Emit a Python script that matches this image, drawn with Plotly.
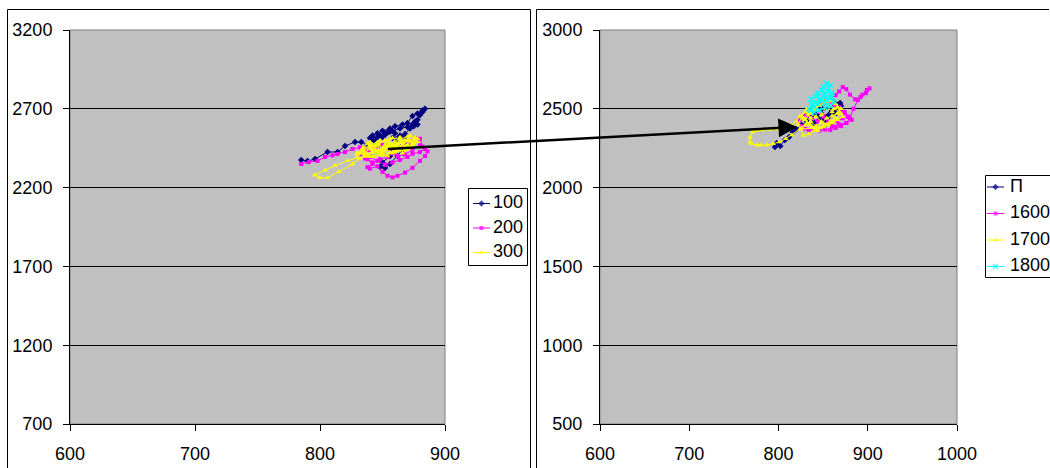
import plotly.graph_objects as go

W, H = 1050, 468

# ---------------- data: left chart ----------------
x100 = [785, 790, 796, 806, 814, 820, 828, 833, 838, 842, 846, 844, 850, 854, 848, 852, 856, 860, 858, 864,
        862, 868, 866, 860, 856, 850, 848, 852, 856, 862, 866, 870, 868, 872, 875, 878, 876, 880, 884, 882,
        878, 874, 870, 866, 860, 856, 850, 846, 842, 840, 846, 852, 858, 864, 870, 874, 878, 882]
y100 = [2375, 2368, 2381, 2426, 2426, 2464, 2489, 2489, 2470, 2500, 2510, 2485, 2520, 2550, 2530, 2540, 2555, 2545, 2515, 2530,
        2500, 2520, 2470, 2440, 2400, 2360, 2330, 2325, 2350, 2400, 2440, 2480, 2540, 2575, 2590, 2600, 2620, 2660, 2700, 2690,
        2670, 2655, 2610, 2600, 2590, 2575, 2560, 2545, 2530, 2515, 2520, 2535, 2560, 2575, 2585, 2600, 2630, 2680]

x200 = [785, 791, 798, 804, 810, 814, 820, 826, 832, 836, 834, 838, 842, 838, 840, 846, 850, 854, 858, 862,
        868, 874, 880, 884, 886, 882, 880, 876, 870, 866, 862, 858, 862, 868, 874, 880, 884, 880, 874, 870,
        864, 858, 852, 846, 840, 836, 840, 846, 850, 856, 860, 854, 848, 842, 836, 832]
y200 = [2350, 2362, 2369, 2394, 2405, 2413, 2426, 2445, 2455, 2440, 2410, 2380, 2350, 2330, 2320, 2335, 2300, 2275, 2265, 2275,
        2295, 2325, 2370, 2400, 2430, 2460, 2510, 2515, 2490, 2470, 2440, 2420, 2400, 2410, 2440, 2470, 2445, 2425, 2415, 2395,
        2375, 2360, 2345, 2370, 2395, 2420, 2440, 2460, 2470, 2445, 2420, 2395, 2380, 2360, 2385, 2410]

x300 = [796, 800, 806, 815, 826, 832, 836, 840, 838, 844, 848, 846, 852, 856, 854, 860, 864, 862, 868, 872,
        870, 876, 874, 868, 862, 858, 852, 848, 842, 838, 834, 840, 846, 850, 856, 860, 866, 870, 874, 878,
        872, 866, 860, 854, 848, 842, 836, 830, 834, 840, 846, 852, 858, 864, 870, 864, 856, 848, 840, 832,
        836, 842, 848, 854, 860, 866, 872, 876, 870, 864, 858, 852, 846, 840, 834, 830, 838, 844, 850, 856,
        862, 868, 874, 878, 870, 860, 850, 840, 830, 822, 812, 804, 796]
y300 = [2280, 2262, 2262, 2300, 2350, 2385, 2420, 2450, 2480, 2460, 2500, 2430, 2470, 2510, 2440, 2490, 2520, 2450, 2500, 2530,
        2470, 2510, 2460, 2440, 2480, 2420, 2460, 2410, 2440, 2400, 2430, 2470, 2490, 2450, 2480, 2430, 2470, 2500, 2480, 2510,
        2455, 2420, 2450, 2400, 2430, 2395, 2420, 2410, 2450, 2490, 2470, 2500, 2470, 2490, 2470, 2440, 2460, 2430, 2450, 2420,
        2400, 2425, 2415, 2455, 2465, 2485, 2495, 2520, 2525, 2505, 2515, 2495, 2480, 2465, 2445, 2420, 2410, 2440, 2430, 2420,
        2440, 2460, 2470, 2490, 2445, 2425, 2405, 2395, 2390, 2370, 2340, 2310, 2280]

# ---------------- data: right chart ----------------
xP = [796, 798, 802, 807, 812, 816, 820, 826, 832, 838, 843, 848, 852, 856, 860, 865, 869, 862, 855, 848,
      842, 836, 840, 845, 852, 858, 864, 870, 866, 860, 854, 848, 844, 850, 856, 862]
yP = [2258, 2283, 2264, 2302, 2321, 2353, 2370, 2397, 2420, 2460, 2505, 2480, 2429, 2450, 2490, 2473, 2537, 2540, 2520, 2500,
      2470, 2440, 2410, 2425, 2445, 2470, 2510, 2520, 2495, 2470, 2450, 2430, 2460, 2500, 2525, 2510]

x1600 = [822, 826, 830, 834, 840, 846, 852, 858, 864, 870, 876, 880, 884, 889, 894, 899, 902, 898, 892, 886,
         880, 876, 872, 868, 864, 858, 862, 868, 874, 878, 872, 866, 860, 856, 850, 846, 842, 846, 852, 858,
         864, 870, 874, 878, 882, 876, 868, 860, 852, 844, 836, 830, 826, 824]
y1600 = [2420, 2390, 2375, 2365, 2372, 2362, 2368, 2365, 2378, 2390, 2410, 2441, 2500, 2555, 2590, 2619, 2630, 2600, 2575, 2560,
         2590, 2625, 2638, 2610, 2587, 2560, 2530, 2510, 2480, 2450, 2440, 2420, 2400, 2420, 2450, 2480, 2500, 2530, 2555, 2540,
         2510, 2490, 2470, 2450, 2430, 2410, 2400, 2390, 2400, 2420, 2440, 2460, 2450, 2430]

x1700 = [826, 815, 808, 801, 794, 787, 780, 776, 770, 768, 768, 771, 776, 782, 790, 798, 806, 814, 820, 824,
         830, 836, 842, 848, 854, 860, 866, 870, 864, 858, 852, 846, 840, 834, 828, 822, 826, 832, 838, 844,
         850, 856, 862, 868, 872, 866, 860, 854, 848, 842, 836, 830, 835, 842, 824, 830, 836, 842, 848, 854,
         860, 866, 870, 864, 858, 852, 846, 840, 834, 828, 832, 838, 844, 850, 856, 862]
y1700 = [2380, 2334, 2310, 2289, 2278, 2270, 2268, 2270, 2278, 2289, 2320, 2353, 2362, 2365, 2368, 2372, 2380, 2395, 2420, 2455,
         2480, 2440, 2500, 2460, 2520, 2480, 2510, 2470, 2440, 2420, 2400, 2380, 2360, 2340, 2330, 2400, 2450, 2500, 2540, 2520,
         2555, 2530, 2500, 2480, 2450, 2430, 2410, 2395, 2420, 2450, 2470, 2430, 2400, 2380, 2370, 2395, 2420, 2390, 2410, 2440,
         2455, 2470, 2500, 2530, 2550, 2545, 2520, 2490, 2470, 2440, 2410, 2380, 2360, 2385, 2400, 2420]

x1800 = [834, 838, 836, 842, 846, 844, 848, 852, 850, 854, 856, 858, 855, 860, 858, 854, 850, 846, 842, 838,
         836, 840, 844, 848, 852, 856, 860, 862, 858, 852, 846, 840]
y1800 = [2500, 2530, 2560, 2580, 2550, 2600, 2620, 2590, 2640, 2660, 2630, 2650, 2610, 2600, 2570, 2560, 2580, 2560, 2540, 2520,
         2490, 2510, 2530, 2555, 2540, 2570, 2580, 2545, 2520, 2510, 2490, 2480]

left_names = ["100", "200", "300"]
right_names = ["\u041f", "1600", "1700", "1800"]

left_xrange, left_yrange = [600, 900], [700, 3200]
right_xrange, right_yrange = [600, 1000], [500, 3000]
left_yticks = [700, 1200, 1700, 2200, 2700, 3200]
right_yticks = [500, 1000, 1500, 2000, 2500, 3000]
left_xticks = [600, 700, 800, 900]
right_xticks = [600, 700, 800, 900, 1000]

arrow_from = (853, 2445)   # in left chart coordinates
arrow_to = (821, 2385)     # in right chart coordinates

# ---------------- layout geometry (pixels) ----------------
L_X0, L_X1 = 70, 445
R_X0, R_X1 = 600, 957
P_Y0, P_Y1 = 30, 424  # top, bottom

LEG1 = dict(box=(468.5, 188.5, 527.5, 265.5), line=(473, 490), text_x=493, rows=[203.5, 228, 252.5],
            area=(464, 184, 531, 270))
LEG2 = dict(box=(985.5, 175.5, 1060, 277.5), line=(987, 1004), text_x=1010, rows=[187, 213.5, 240, 266.5],
            area=(981, 171, 1050, 282))

NAVY, MAG, YEL, CYA = "#000080", "#FF00FF", "#FFFF00", "#00FFFF"
FONT = "Liberation Sans, Arial, sans-serif"
FS = 18

fig = go.Figure()

def add(x, y, name, color, symbol, xa, ya, size=5, lw=0):
    fig.add_trace(go.Scatter(
        x=x, y=y, name=name, mode="lines+markers", xaxis=xa, yaxis=ya, showlegend=False,
        line=dict(color=color, width=1),
        marker=dict(color=color, symbol=symbol, size=size, line=dict(width=lw, color=color)),
    ))

left_styles = [(NAVY, "diamond", 5, 0), (MAG, "square", 4, 0), (YEL, "triangle-up", 5, 0)]
right_styles = [(NAVY, "diamond", 5, 0), (MAG, "square", 4, 0), (YEL, "triangle-up", 5, 0), (CYA, "x-thin-open", 5, 1.5)]

for (xs, ys), nm, st in zip([(x100, y100), (x200, y200), (x300, y300)], left_names, left_styles):
    add(xs, ys, nm, st[0], st[1], "x", "y", st[2], st[3])
for (xs, ys), nm, st in zip([(xP, yP), (x1600, y1600), (x1700, y1700), (x1800, y1800)], right_names, right_styles):
    add(xs, ys, nm, st[0], st[1], "x2", "y2", st[2], st[3])

# ---- legends drawn inside their own hidden axes so the right one is clipped at the page edge ----
def draw_legend(leg, names, styles, xa, ya):
    lx0, lx1 = leg["line"]
    for nm, st, ry in zip(names, styles, leg["rows"]):
        fig.add_trace(go.Scatter(
            x=[lx0, (lx0 + lx1) / 2, lx1], y=[ry, ry, ry], mode="lines+markers", xaxis=xa, yaxis=ya,
            showlegend=False, hoverinfo="skip", line=dict(color=st[0], width=1),
            marker=dict(color=st[0], symbol=st[1], size=[0, st[2], 0], line=dict(width=st[3], color=st[0])),
        ))
        fig.add_trace(go.Scatter(
            x=[leg["text_x"]], y=[ry], mode="text", text=[nm], textposition="middle right",
            textfont=dict(family=FONT, size=FS, color="black"), xaxis=xa, yaxis=ya,
            showlegend=False, hoverinfo="skip", cliponaxis=True,
        ))

draw_legend(LEG1, left_names, left_styles, "x3", "y3")
draw_legend(LEG2, right_names, right_styles, "x4", "y4")

def px(v):
    return v / W

def py(v):
    return 1 - v / H

axis_common = dict(
    showline=True, linecolor="black", linewidth=1, ticks="outside", ticklen=6, tickcolor="black",
    tickwidth=1, tickfont=dict(family=FONT, size=FS, color="black"), zeroline=False,
    automargin=False, fixedrange=True,
)

def hidden_axes(area):
    ax0, ay0, ax1, ay1 = area
    xa = dict(domain=[px(ax0), px(ax1)], range=[ax0, ax1], visible=False, fixedrange=True)
    ya = dict(domain=[py(ay1), py(ay0)], range=[ay1, ay0], visible=False, fixedrange=True)
    return xa, ya

x3, y3 = hidden_axes(LEG1["area"])
x4, y4 = hidden_axes(LEG2["area"])
x3["anchor"], y3["anchor"], x4["anchor"], y4["anchor"] = "y3", "x3", "y4", "x4"

fig.update_layout(
    width=W, height=H, margin=dict(l=0, r=0, t=0, b=0),
    paper_bgcolor="white", plot_bgcolor="rgba(0,0,0,0)", template="none",
    showlegend=False,
    xaxis=dict(domain=[px(L_X0), px(L_X1)], range=left_xrange, tickvals=left_xticks, showgrid=False,
               anchor="y", ticklabelstandoff=7, **axis_common),
    yaxis=dict(domain=[py(P_Y1), py(P_Y0)], range=left_yrange, tickvals=left_yticks, showgrid=True,
               gridcolor="black", gridwidth=1, anchor="x", ticklabelstandoff=7, **axis_common),
    xaxis2=dict(domain=[px(R_X0), px(R_X1)], range=right_xrange, tickvals=right_xticks, showgrid=False,
                anchor="y2", ticklabelstandoff=7, **axis_common),
    yaxis2=dict(domain=[py(P_Y1), py(P_Y0)], range=right_yrange, tickvals=right_yticks, showgrid=True,
                gridcolor="black", gridwidth=1, anchor="x2", ticklabelstandoff=7, **axis_common),
    xaxis3=x3, yaxis3=y3, xaxis4=x4, yaxis4=y4,
)

shapes = []
for x0, x1 in [(L_X0, L_X1), (R_X0, R_X1)]:
    shapes.append(dict(type="rect", xref="paper", yref="paper", x0=px(x0), x1=px(x1), y0=py(P_Y1), y1=py(P_Y0),
                       fillcolor="#C0C0C0", line=dict(color="#808080", width=1), layer="below"))
for leg, xr, yr in [(LEG1, "x3", "y3"), (LEG2, "x4", "y4")]:
    bx0, by0, bx1, by1 = leg["box"]
    shapes.append(dict(type="rect", xref=xr, yref=yr, x0=bx0, x1=bx1, y0=by0, y1=by1,
                       fillcolor="white", line=dict(color="black", width=1), layer="below"))
frame = dict(type="line", xref="paper", yref="paper", line=dict(color="black", width=1))
shapes += [
    dict(frame, x0=px(7.5), x1=px(7.5), y0=0, y1=py(9.5)),
    dict(frame, x0=px(7.5), x1=px(530.5), y0=py(9.5), y1=py(9.5)),
    dict(frame, x0=px(530.5), x1=px(530.5), y0=0, y1=py(9.5)),
    dict(frame, x0=px(536.5), x1=px(536.5), y0=0, y1=py(9.5)),
    dict(frame, x0=px(536.5), x1=px(W - 1), y0=py(9.5), y1=py(9.5)),
]
fig.update_layout(shapes=shapes)

def left_to_px(xv, yv):
    return (L_X0 + (xv - left_xrange[0]) / (left_xrange[1] - left_xrange[0]) * (L_X1 - L_X0),
            P_Y1 - (yv - left_yrange[0]) / (left_yrange[1] - left_yrange[0]) * (P_Y1 - P_Y0))

def right_to_px(xv, yv):
    return (R_X0 + (xv - right_xrange[0]) / (right_xrange[1] - right_xrange[0]) * (R_X1 - R_X0),
            P_Y1 - (yv - right_yrange[0]) / (right_yrange[1] - right_yrange[0]) * (P_Y1 - P_Y0))

tx, ty = left_to_px(*arrow_from)
hx, hy = right_to_px(*arrow_to)
fig.add_annotation(x=arrow_to[0], y=arrow_to[1], xref="x2", yref="y2", ax=tx - hx, ay=ty - hy,
                   axref="pixel", ayref="pixel", text="", showarrow=True, arrowhead=2, arrowsize=1.5,
                   arrowwidth=2.5, arrowcolor="black", standoff=0)

fig.write_html("out.html")
